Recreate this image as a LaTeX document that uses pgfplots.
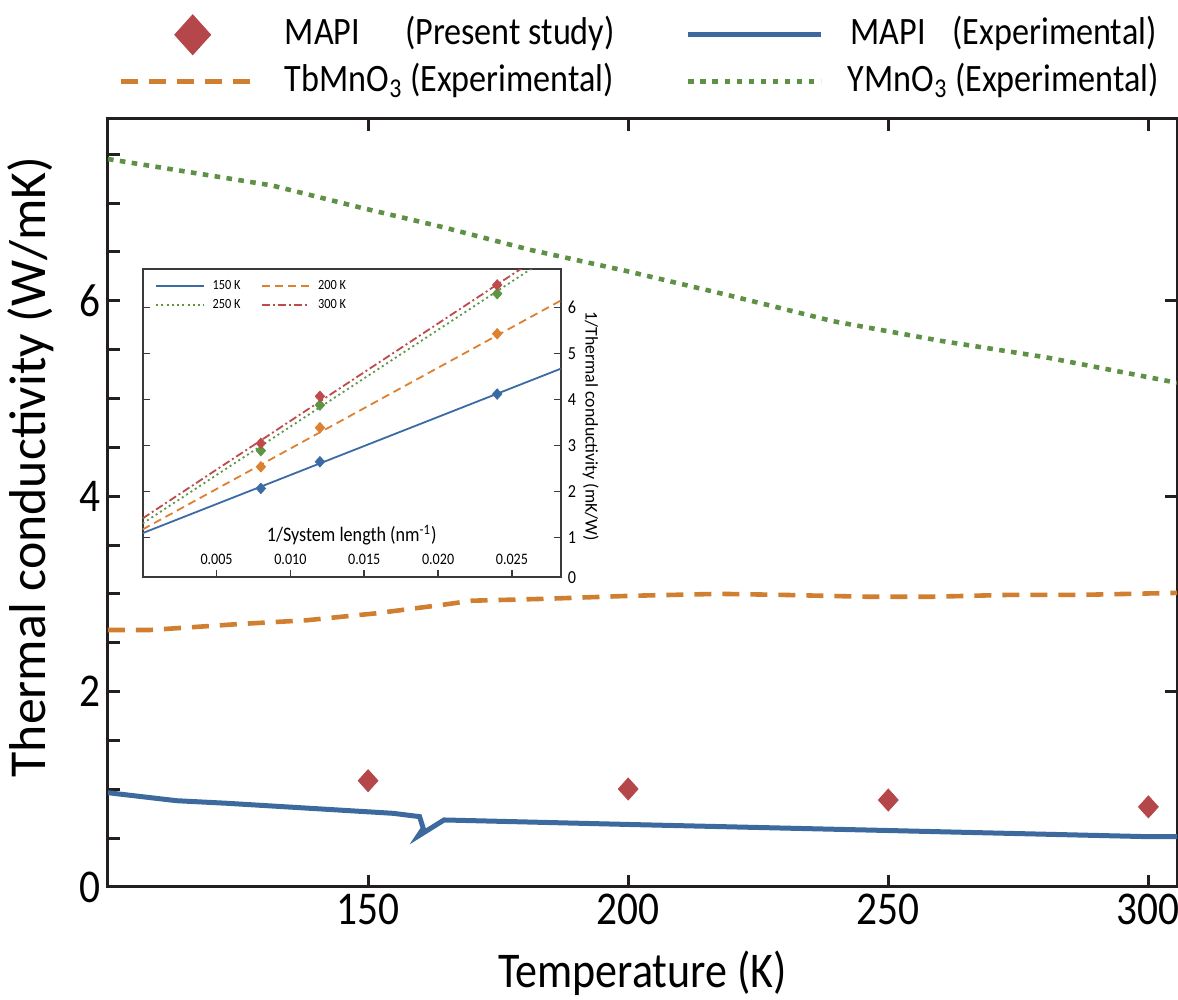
\documentclass[border=0pt]{standalone}
\usepackage{pgfplots}
\pgfplotsset{compat=1.18}
\usepackage{fontspec}
\setmainfont{Carlito}[FakeStretch=0.88]
\newfontfamily\rotfont{Carlito}
\definecolor{axisblack}{HTML}{231F20}
\definecolor{mapired}{HTML}{B5474A}
\definecolor{mapiblue}{HTML}{3D6A9E}
\definecolor{tborange}{HTML}{CF7F2F}
\definecolor{ygreen}{HTML}{5E9145}
\definecolor{insetgray}{HTML}{3A3A3A}
\definecolor{iblue}{HTML}{3B6BA5}
\definecolor{iorange}{HTML}{DD8130}
\definecolor{igreen}{HTML}{5C9645}
\definecolor{ired}{HTML}{BE4A4C}
\begin{document}
\begin{tikzpicture}
\path[use as bounding box] (-54pt,-56.5pt) rectangle (535pt,443.5pt);
% ---------------- main axis ----------------
\begin{axis}[
  at={(0,0)}, anchor=south west,
  scale only axis, width=534.5pt, height=384pt,
  xmin=100, xmax=305.5, ymin=0, ymax=7.86,
  xtick={150,200,250,300},
  ytick={0,2,4,6}, minor ytick={0.5,1,...,7.5},
  tick align=inside, xtick pos=both, ytick pos=left,
  major tick length=6pt, minor tick length=6pt,
  every major tick/.append style={line width=1.5pt, color=axisblack},
  every minor tick/.append style={line width=1.5pt, color=axisblack},
  axis line style={line width=1.5pt, color=axisblack},
  /pgf/number format/assume math mode=true,
  tick label style={font=\fontsize{23.5}{28}\selectfont},
  xlabel={Temperature (K)},
  ylabel={Thermal conductivity (W/mK)},
  xlabel style={font=\fontsize{25}{30}\selectfont, yshift=-6pt},
  ylabel style={at={(axis description cs:-0.072,0.547)}, anchor=center,
    font=\rotfont\fontsize{25.9}{30}\selectfont},
  legend columns=2,
  legend style={at={(axis description cs:0,1)}, anchor=south west,
    xshift=5pt, yshift=9.2pt, draw=none, fill=none, inner sep=0pt,
    font=\fontsize{19.4}{23}\selectfont, column sep=0pt, row sep=4pt,
    nodes={inner sep=0pt, text height=14pt, text depth=4.5pt}},
  legend image code/.code={\draw[#1] (0pt,0pt) -- (66pt,0pt);},
]
\addplot[only marks, mark=diamond*, mark size=5.5pt, color=mapired,
  mark options={xscale=1.2, draw=none, fill=mapired},
  legend image code/.code={\fill[mapired] (36pt,-10pt) -- (45pt,0pt) -- (36pt,10pt) -- (27pt,0pt) -- cycle;}]
  coordinates {(150,1.088) (200,1.003) (250,0.89) (300,0.82)};
\addlegendentry{\hspace*{15pt}\makebox[200.5pt][l]{\makebox[60pt][l]{MAPI}(Present study)}}
\addplot[color=mapiblue, line width=2.5pt, line join=miter, miter limit=10]
  coordinates {(100,0.965) (113.2,0.883) (122.8,0.857) (154.8,0.754) (159.9,0.72)
   (160.6,0.60) (159.6,0.52) (164.6,0.686) (200,0.64) (250,0.578) (300,0.515) (305.5,0.515)};
\addlegendentry{\hspace*{12.5pt}\makebox[51pt][l]{MAPI}(Experimental)}
\addplot[color=tborange, line width=2.3pt, dash pattern=on 8.5pt off 5.5pt]
  coordinates {(100,2.63) (108,2.63) (124.9,2.69) (138.2,2.73) (151.4,2.80) (164.6,2.89)
   (170,2.93) (184.5,2.95) (200.4,2.98) (217.5,3.00) (229.2,2.99) (246.3,2.97)
   (258,2.97) (273.6,2.99) (287.2,2.99) (305.5,3.01)};
\addlegendentry{\hspace*{15pt}\makebox[200.5pt][l]{TbMnO\textsubscript{3} (Experimental)}}
\addplot[color=ygreen, line width=2.3pt, dash pattern=on 2.8pt off 3.2pt]
  coordinates {(100,7.45) (131.5,7.18) (148,6.96) (164.6,6.75) (181.2,6.52) (200,6.30)
   (219,6.06) (239.4,5.79) (260,5.59) (280.4,5.42) (305.5,5.16)};
\addlegendentry{\hspace*{12.5pt}YMnO\textsubscript{3} (Experimental)}
\end{axis}
% right-side major ticks only
\begin{axis}[
  at={(0,0)}, anchor=south west,
  scale only axis, width=534.5pt, height=384pt,
  xmin=100, xmax=305.5, ymin=0, ymax=7.86,
  axis line style={draw=none},
  xtick=\empty, ytick={2,4,6}, yticklabels={},
  tick align=inside, ytick pos=right,
  major tick length=6pt,
  every major tick/.append style={line width=1.5pt, color=axisblack},
]
\end{axis}
% ---------------- inset ----------------
\begin{axis}[
  at={(17.35pt,154.85pt)}, anchor=south west,
  scale only axis, width=209pt, height=154pt,
  xmin=0, xmax=0.0283, ymin=0.14, ymax=6.83,
  axis background/.style={fill=white},
  axis line style={line width=0.8pt, color=insetgray},
  xtick={0.005,0.010,0.015,0.020,0.025},
  xticklabels={0.005,0.010,0.015,0.020,0.025},
  scaled x ticks=false,
  ytick={1,2,3,4,5,6},
  extra y ticks={0.14}, extra y tick labels={0},
  extra y tick style={major tick length=0pt},
  tick align=inside, xtick pos=bottom, ytick pos=both, yticklabel pos=right,
  major tick length=3.5pt,
  every major tick/.append style={line width=0.8pt, color=insetgray},
  /pgf/number format/assume math mode=true,
  xticklabel style={anchor=center, yshift=9pt, font=\fontsize{8}{9.6}\selectfont},
  yticklabel style={font=\fontsize{9.2}{11}\selectfont},
  xlabel={1/System length (nm\textsuperscript{-1})},
  xlabel style={at={(axis description cs:0.5,0)}, anchor=center, yshift=21pt,
    font=\fontsize{10.3}{12}\selectfont},
  ylabel={1/Thermal conductivity (mK/W)},
  ylabel style={at={(axis description cs:1.072,0.49)}, anchor=center,
    rotate=180, font=\rotfont\fontsize{8.9}{10.5}\selectfont},
  legend columns=2,
  legend style={at={(axis description cs:0,1)}, anchor=north west,
    xshift=6.15pt, yshift=-5.1pt, draw=none, fill=none, inner sep=0pt,
    font=\fontsize{7}{8.4}\selectfont, column sep=3.7pt, row sep=2.65pt,
    nodes={inner sep=0pt, text height=5pt, text depth=1.5pt}},
  legend image code/.code={\draw[#1] (0pt,0pt) -- (24pt,0pt);},
]
\addplot[color=iblue, line width=0.9pt] coordinates {(0,1.10) (0.0283,4.67)};
\addlegendentry{\makebox[20.45pt][l]{150 K}}
\addplot[color=iorange, line width=0.9pt, dash pattern=on 4pt off 2.5pt] coordinates {(0,1.18) (0.0283,6.15)};
\addlegendentry{200 K}
\addplot[color=igreen, line width=0.9pt, dash pattern=on 1pt off 1.6pt] coordinates {(0,1.31) (0.0283,7.26)};
\addlegendentry{\makebox[20.45pt][l]{250 K}}
\addplot[color=ired, line width=0.9pt, dash pattern=on 4pt off 1.5pt on 1pt off 1.5pt] coordinates {(0,1.42) (0.0283,7.41)};
\addlegendentry{300 K}
\addplot[forget plot, only marks, mark=diamond*, mark size=2.6pt, color=iblue, mark options={xscale=1.2}]
  coordinates {(0.008,2.07) (0.012,2.65) (0.024,4.12)};
\addplot[forget plot, only marks, mark=diamond*, mark size=2.6pt, color=iorange, mark options={xscale=1.2}]
  coordinates {(0.008,2.54) (0.012,3.39) (0.024,5.43)};
\addplot[forget plot, only marks, mark=diamond*, mark size=2.6pt, color=igreen, mark options={xscale=1.2}]
  coordinates {(0.008,2.89) (0.012,3.88) (0.024,6.30)};
\addplot[forget plot, only marks, mark=diamond*, mark size=2.6pt, color=ired, mark options={xscale=1.2}]
  coordinates {(0.008,3.05) (0.012,4.07) (0.024,6.49)};
\end{axis}
\end{tikzpicture}
\end{document}
